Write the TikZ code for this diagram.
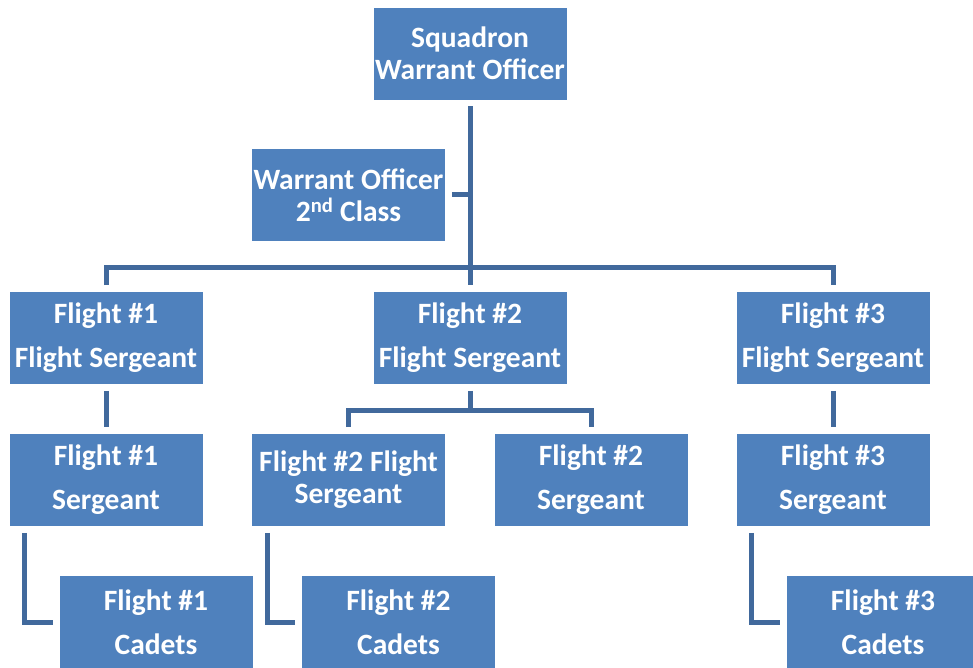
\documentclass[tikz,border=0pt]{standalone}
\usepackage{fontspec}
\setmainfont{Carlito}
\usetikzlibrary{positioning}

\definecolor{unitblue}{HTML}{4F81BD}
\definecolor{linkblue}{HTML}{41699C}

\begin{document}
\begin{tikzpicture}[x=1pt,y=-1pt,
		unit/.style = {fill=unitblue,draw=white,line width=0.6pt,minimum width=194pt,minimum height=93pt,
			inner sep=0pt,align=center,text=white,font=\bfseries\fontsize{29.5}{32}\selectfont},
		wide/.style = {font=\bfseries\fontsize{29.5}{44}\selectfont},
		link/.style = {draw=linkblue,line width=5pt}]
			\clip (0,0) rectangle (973,668);
			\node (SWO) at (470, 53.5) [unit]  {Squadron\\Warrant Officer};
			\node (WO2) at (348.5, 195) [unit]  {Warrant Officer\\2\textsuperscript{nd} Class};
			\node (FS1) at (106, 338) [unit,wide]  {Flight \#1\\Flight Sergeant};
			\node (FS2) at (470, 338) [unit,wide]  {Flight \#2\\Flight Sergeant};
			\node (FS3) at (833, 338) [unit,wide]  {Flight \#3\\Flight Sergeant};
			\node (S1) at (106, 480) [unit,wide]  {Flight \#1\\Sergeant};
			\node (FSb2) at (348.5, 480) [unit]  {Flight \#2 Flight\\Sergeant};
			\node (S2) at (591, 480) [unit,wide]  {Flight \#2\\Sergeant};
			\node (S3) at (833, 480) [unit,wide]  {Flight \#3\\Sergeant};
			\node (C1) at (156, 622) [unit,wide]  {Flight \#1\\Cadets};
			\node (C2) at (398.5, 622) [unit,wide]  {Flight \#2\\Cadets};
			\node (C3) at (883, 622) [unit,wide]  {Flight \#3\\Cadets};
			% squadron level
			\coordinate (bus) at (470, 267);
			\draw[link] ([yshift=-6pt]SWO.south) -- ([yshift=6pt]FS2.north);
			\draw[link] ([xshift=6pt]WO2.east) -- (WO2.east -| SWO.south);
			\draw[link] ([yshift=6pt]FS1.north) |- (bus) -| ([yshift=6pt]FS3.north);
			% flights
			\coordinate (fork) at (470, 410);
			\draw[link] ([yshift=-6pt]FS1.south) -- ([yshift=6pt]S1.north);
			\draw[link] ([yshift=-6pt]FS2.south) -- (fork);
			\draw[link] ([yshift=6pt]FSb2.north) |- (fork) -| ([yshift=6pt]S2.north);
			\draw[link] ([yshift=-6pt]FS3.south) -- ([yshift=6pt]S3.north);
			% cadets
			\draw[link] ([xshift=16pt,yshift=-6pt]S1.south west) |- ([xshift=-6pt]C1.west);
			\draw[link] ([xshift=16pt,yshift=-6pt]FSb2.south west) |- ([xshift=-6pt]C2.west);
			\draw[link] ([xshift=16pt,yshift=-6pt]S3.south west) |- ([xshift=-6pt]C3.west);
		\end{tikzpicture}
\end{document}
